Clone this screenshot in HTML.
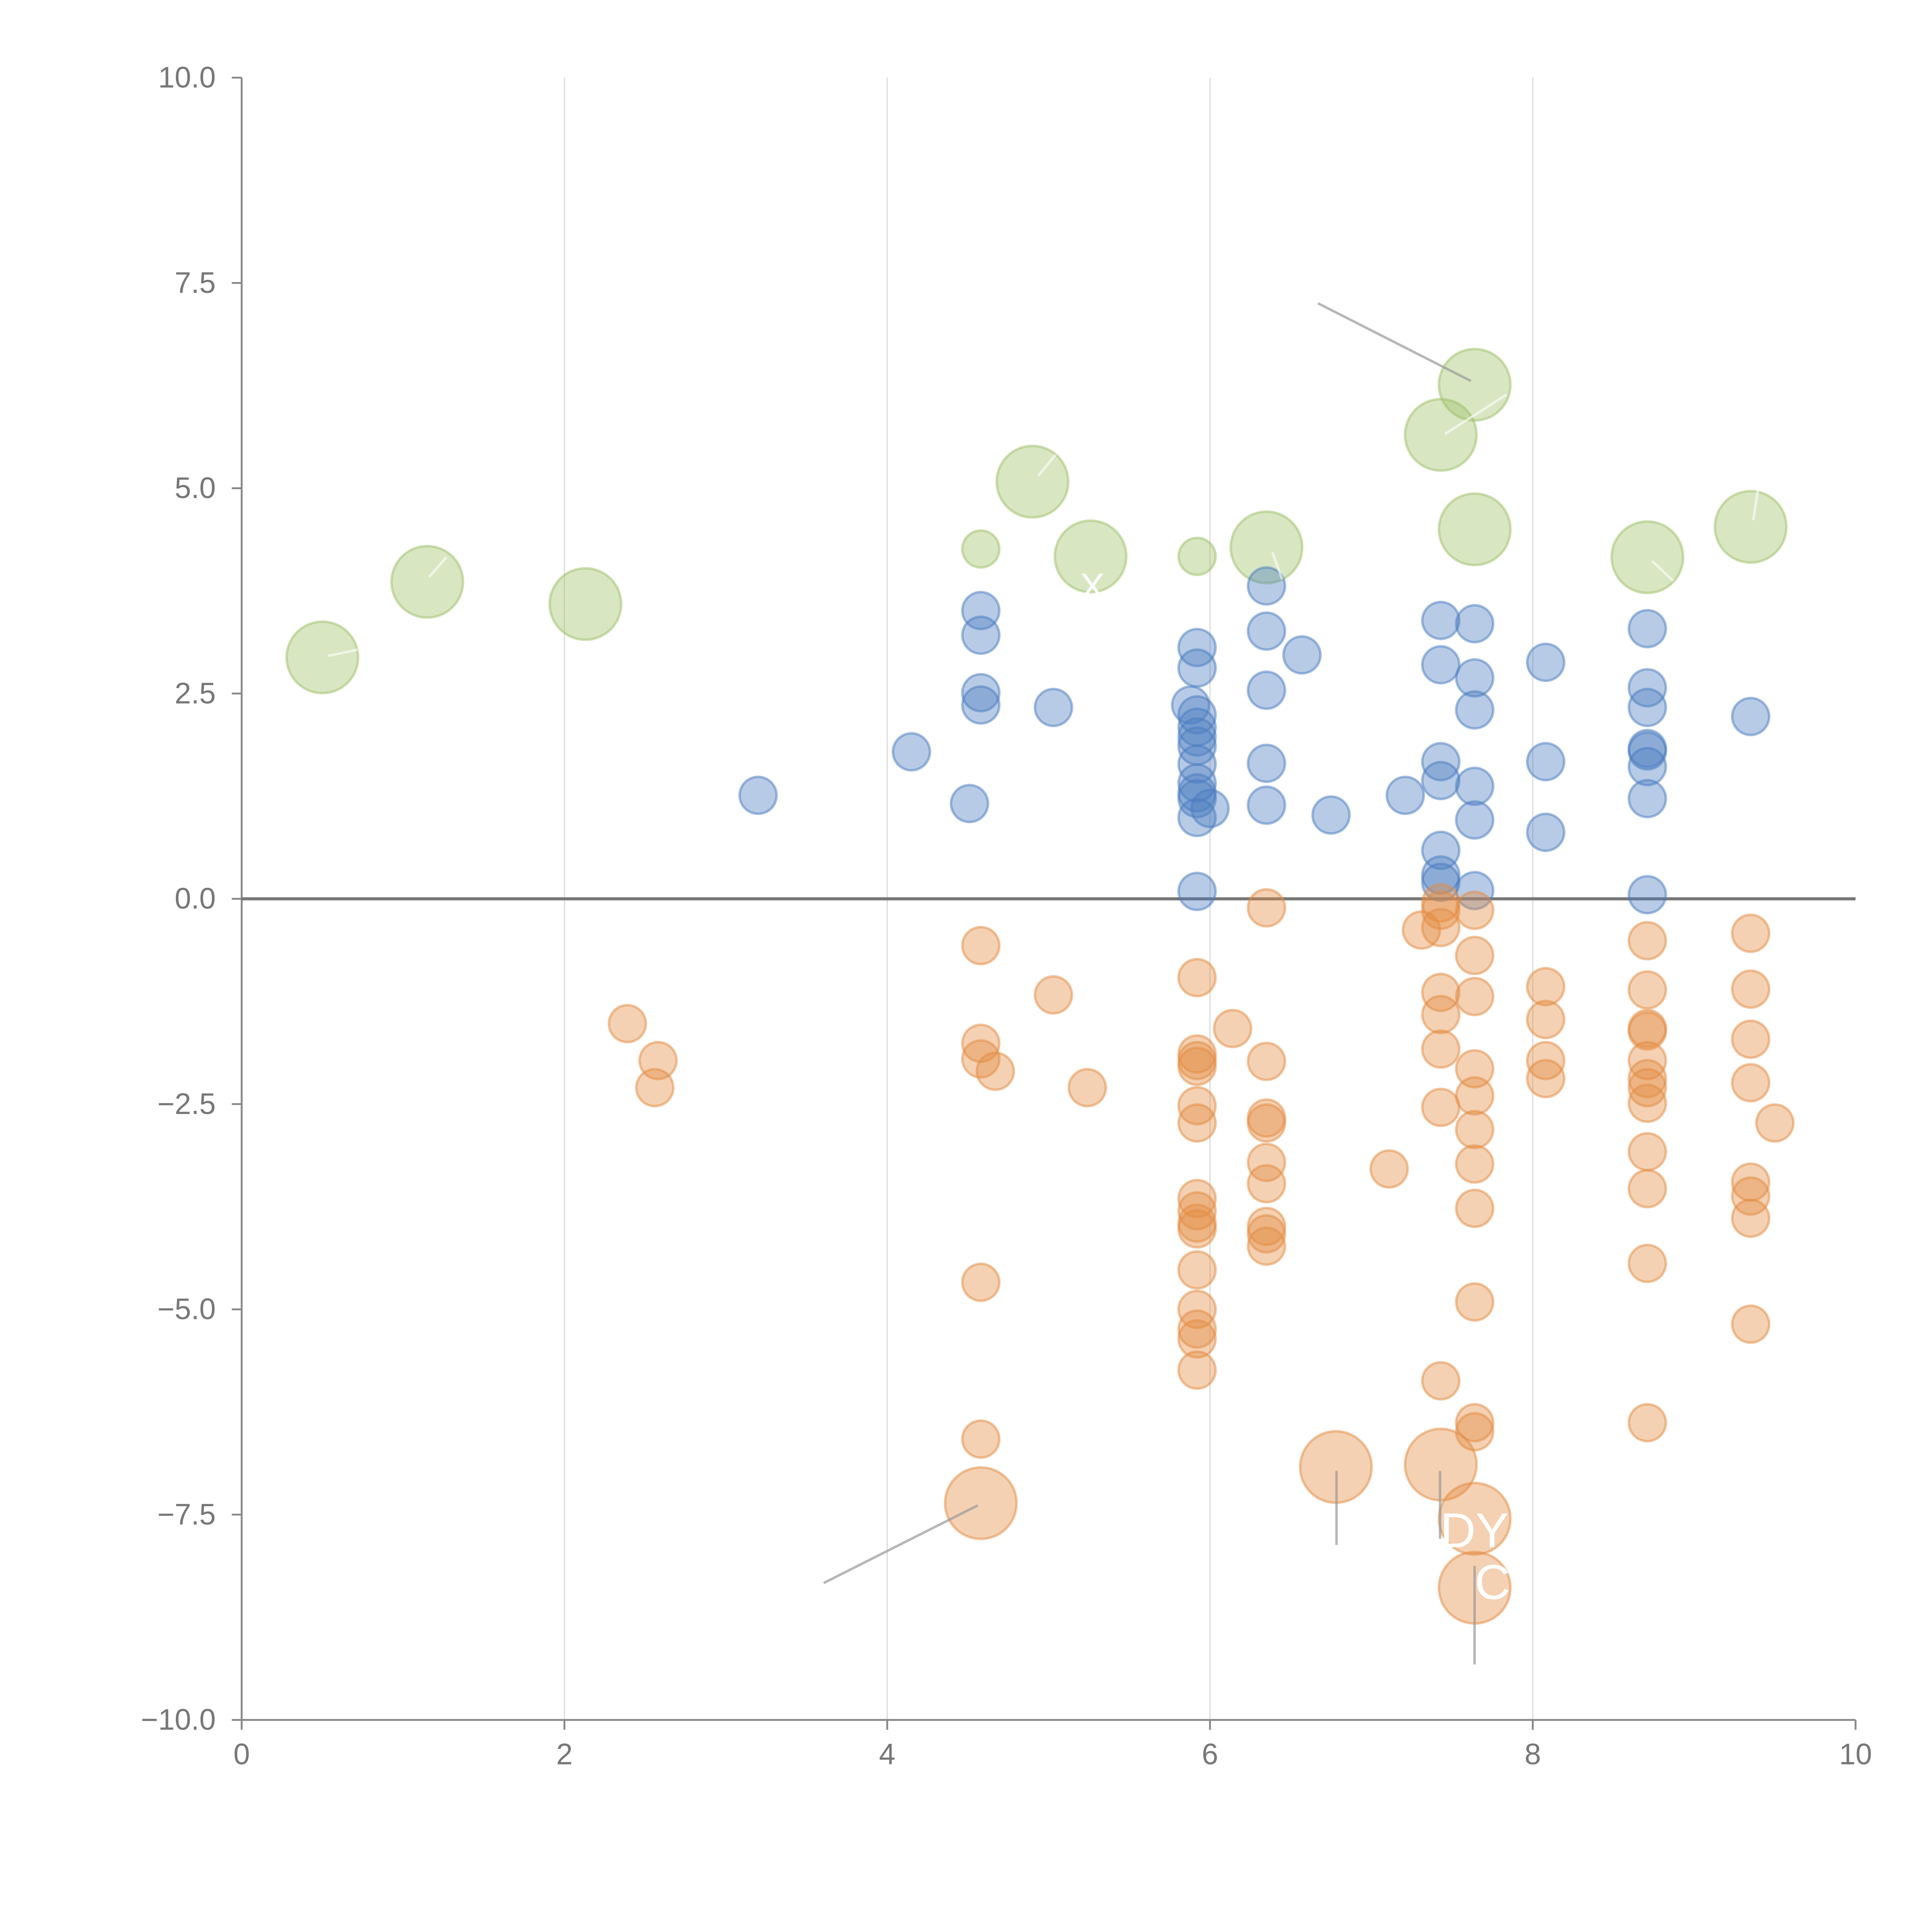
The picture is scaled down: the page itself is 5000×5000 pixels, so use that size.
<!DOCTYPE html>
<html><head><meta charset="utf-8"><style>html,body{margin:0;padding:0;background:#fff}svg{display:block}text{font-family:"Liberation Sans",sans-serif}</style></head>
<body>
<svg id="chart" width="5000" height="5000" viewBox="0 0 1567 1567" xmlns="http://www.w3.org/2000/svg">
<g id="grid"></g>
<g id="axes"></g>
<g id="marks"></g>
<g id="annot"></g>
</svg>
<script>
const xTicks=[0,2,4,6,8,10];
const yTicks=[10,7.5,5,2.5,0,-2.5,-5,-7.5,-10];
const blueX=[3.20,4.15,4.51,4.58,4.58,4.58,4.58,5.03,5.92,5.92,5.88,5.92,5.92,5.92,5.92,5.92,5.92,5.92,5.92,5.92,5.92,6.00,6.35,6.35,6.35,6.35,6.35,6.57,6.75,7.21,7.43,7.43,7.43,7.43,7.43,7.43,7.43,7.64,7.64,7.64,7.64,7.64,7.64,8.08,8.08,8.08,8.71,8.71,8.71,8.71,8.71,8.71,8.71,8.71,9.35];
const blueY=[1.26,1.79,1.16,3.51,3.21,2.51,2.36,2.33,3.06,2.81,2.36,2.24,2.09,1.97,1.86,1.64,1.41,1.29,1.22,0.99,0.09,1.10,3.81,3.26,2.54,1.65,1.14,2.97,1.02,1.26,3.39,2.85,1.67,1.44,0.59,0.29,0.20,3.35,2.69,2.30,1.37,0.96,0.10,2.88,1.67,0.81,3.29,2.57,2.33,1.83,1.80,1.61,1.22,0.05,2.22];
const orangeX=[2.39,2.58,2.56,4.58,4.58,4.58,4.58,4.58,4.67,4.58,5.03,5.24,5.92,5.92,5.92,5.92,5.92,5.92,5.92,5.92,5.92,5.92,5.92,5.92,5.92,5.92,5.92,6.14,6.35,6.35,6.35,6.35,6.35,6.35,6.35,6.35,6.35,6.78,7.11,7.31,7.43,7.43,7.43,7.43,7.43,7.43,7.43,7.43,7.43,7.64,7.64,7.64,7.64,7.64,7.64,7.64,7.64,7.64,7.64,7.64,7.64,7.64,8.08,8.08,8.08,8.08,8.71,8.71,8.71,8.71,8.71,8.71,8.71,8.71,8.71,8.71,8.71,8.71,9.35,9.35,9.35,9.35,9.35,9.35,9.35,9.35,9.50];
const orangeY=[-1.52,-1.97,-2.30,-0.57,-1.76,-1.95,-4.67,-6.58,-2.10,-7.36,-1.17,-2.30,-0.96,-1.89,-1.97,-2.04,-2.52,-2.73,-3.65,-3.80,-3.95,-4.02,-4.52,-5.00,-5.24,-5.36,-5.74,-1.58,-0.11,-1.98,-2.67,-2.73,-3.21,-3.47,-3.99,-4.08,-4.23,-6.92,-3.29,-0.38,-0.05,-0.14,-0.35,-1.14,-1.41,-1.83,-2.54,-5.87,-6.89,-0.14,-0.69,-1.19,-2.07,-2.40,-2.81,-3.23,-3.77,-4.91,-6.38,-6.49,-7.55,-8.39,-1.07,-1.47,-1.97,-2.19,-0.51,-1.11,-1.58,-1.61,-1.97,-2.19,-2.30,-2.49,-3.08,-3.53,-4.44,-6.38,-0.42,-1.10,-1.71,-2.24,-3.45,-3.62,-3.89,-5.18,-2.73];
const orangeSize=[1,1,1,1,1,1,1,1,1,2,1,1,1,1,1,1,1,1,1,1,1,1,1,1,1,1,1,1,1,1,1,1,1,1,1,1,1,2,1,1,1,1,1,1,1,1,1,1,2,1,1,1,1,1,1,1,1,1,1,1,2,2,1,1,1,1,1,1,1,1,1,1,1,1,1,1,1,1,1,1,1,1,1,1,1,1,1];
const greenX=[0.50,1.15,2.13,4.58,4.90,5.26,5.92,6.35,7.43,7.64,7.64,8.71,9.35];
const greenY=[2.94,3.86,3.59,4.26,5.08,4.17,4.17,4.28,5.65,6.26,4.50,4.16,4.53];
const greenSize=[2,2,2,1,2,2,1,2,2,2,2,2,2];
const X0=196,X1=1505,Y0=1395,Y1=63;
const sx=v=>X0+(v-0)/(10-0)*(X1-X0);
const sy=v=>Y0-(v+10)/20*(Y0-Y1);
const NS='http://www.w3.org/2000/svg';
function mk(tag,parent,attrs){const e=document.createElementNS(NS,tag);for(const k in attrs)e.setAttribute(k,attrs[k]);parent.appendChild(e);return e;}
const grid=document.getElementById('grid'),axes=document.getElementById('axes'),marks=document.getElementById('marks'),annot=document.getElementById('annot');
xTicks.forEach(t=>{if(t>0&&t<10){const l=mk('line',grid,{x1:sx(t),x2:sx(t),y1:Y1,y2:Y0,stroke:'#dcdcdc','stroke-width':1});

}
const tk=mk('line',axes,{x1:sx(t),x2:sx(t),y1:Y0,y2:Y0+8,stroke:'#888','stroke-width':1.5});


const tx=mk('text',axes,{x:sx(t),y:Y0+36,'text-anchor':'middle','font-size':24,fill:'#777'});tx.textContent=String(t);

});
yTicks.forEach(t=>{const tk=mk('line',axes,{x1:X0-8,x2:X0,y1:sy(t),y2:sy(t),stroke:'#888','stroke-width':1.5});


const tx=mk('text',axes,{x:X0-21,y:sy(t)+8,'text-anchor':'end','font-size':24,fill:'#777'});tx.textContent=(t<0?'\u2212':'')+Math.abs(t).toFixed(1);

});
const ya=mk('line',axes,{x1:X0,x2:X0,y1:Y1,y2:Y0,stroke:'#888','stroke-width':1.5});


const xa=mk('line',axes,{x1:X0,x2:X1,y1:Y0,y2:Y0,stroke:'#888','stroke-width':1.5});


const zl=mk('line',axes,{x1:X0,x2:X1,y1:sy(0),y2:sy(0),stroke:'#777','stroke-width':2.5});


function series(xs,ys,sizes,color,name){xs.forEach((x,i)=>{const r=sizes&&sizes[i]===2?29:15;
const c=mk('circle',marks,{cx:sx(x),cy:sy(ys[i]),r:r,fill:color,'fill-opacity':0.4,stroke:color,'stroke-opacity':0.5,'stroke-width':2});

});}
series(greenX,greenY,greenSize,'#9dc067','green-bubble');
series(blueX,blueY,null,'#4a7cc0','blue-bubble');
series(orangeX,orangeY,orangeSize,'#e38b42','orange-bubble');
[[1069,246,1193,309],[668,1284,793,1221],[1084,1193,1084,1253],[1168,1193,1168,1248],[1196,1270,1196,1350]].forEach(s=>{const l=mk('line',annot,{x1:s[0],y1:s[1],x2:s[2],y2:s[3],stroke:'#999','stroke-opacity':0.7,'stroke-width':2});

});
[[266,532,290,527],[348,468,362,452],[842,386,856,369],[1172,352,1222,320],[1032,448,1040,470],[1422,422,1426,396],[1340,455,1357,471]].forEach(s=>{const l=mk('line',annot,{x1:s[0],y1:s[1],x2:s[2],y2:s[3],stroke:'#fff','stroke-opacity':0.6,'stroke-width':2});

});
[['DY',1168,1255,40],['C',1196,1297,40],['X',876,486,30]].forEach(a=>{const t=mk('text',annot,{x:a[1],y:a[2],'font-size':a[3],fill:'#fff'});t.textContent=a[0];

});
</script>
</body></html>
